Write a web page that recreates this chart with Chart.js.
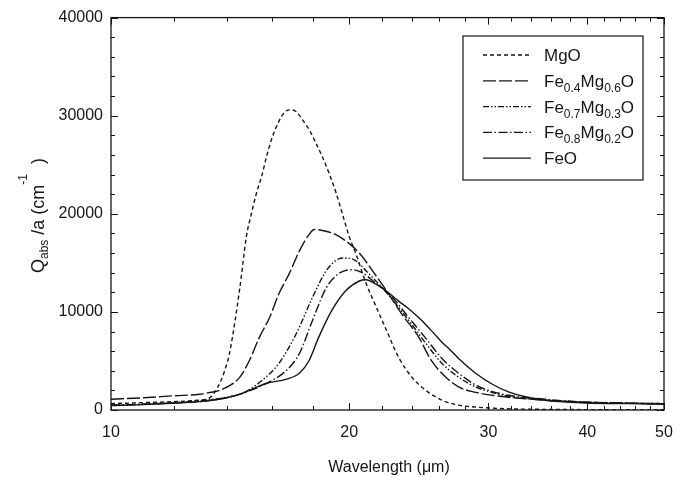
<!DOCTYPE html>
<html><head><meta charset="utf-8">
<script src="https://cdn.jsdelivr.net/npm/chart.js@4/dist/chart.umd.min.js"></script>
<style>html,body{margin:0;padding:0;background:#fff}canvas{display:block}</style>
</head><body>
<canvas id="c" width="696" height="488"></canvas>
<script>
// ---- data (wavelength in µm, Qabs/a in cm^-1) ----
const mgoWl  = [10, 11, 12, 12.9, 13.3, 13.64, 13.92, 14.12, 14.55, 14.83, 15.05, 15.27, 15.5, 15.72, 15.95, 16.19, 16.42, 16.66, 16.9, 17.15, 17.45, 17.81, 18.17, 18.49, 18.87, 19.26, 19.6, 20.0, 20.4, 21.0, 21.6, 22.3, 23.1, 24.0, 25.0, 26.2, 27.5, 28.9, 30.5, 32.7, 36, 40, 45, 50];
const mgoVal = [650, 750, 850, 1000, 1200, 2300, 4000, 5800, 12450, 17700, 20050, 22100, 23800, 25800, 27550, 28900, 29900, 30500, 30600, 30400, 29600, 28550, 27150, 25850, 24100, 22100, 20050, 17700, 15900, 12950, 10650, 8100, 5350, 3350, 2000, 1000, 500, 300, 180, 100, 60, 40, 30, 20];

const fe04Wl  = [10, 11, 12, 12.94, 13.25, 13.72, 14.55, 14.96, 15.4, 15.86, 16.3, 16.8, 17.3, 17.8, 18.07, 18.5, 19.03, 19.83, 20.6, 21.4, 22.3, 23.3, 24.5, 25.4, 26.5, 27.5, 28.9, 30.3, 31.8, 35.4, 39.8, 45, 50];
const fe04Val = [1100, 1250, 1450, 1600, 1750, 2000, 3350, 5050, 7400, 9400, 11850, 13900, 16200, 17900, 18400, 18300, 18050, 17200, 16000, 14200, 12150, 9800, 7400, 5050, 3350, 2350, 1800, 1500, 1300, 1000, 800, 700, 600];

const fe07Wl  = [10, 11, 12, 12.94, 14.0, 14.66, 15.54, 16.3, 17.15, 17.97, 18.71, 19.4, 19.83, 20.4, 21.0, 22.3, 23.8, 25.0, 26.2, 27.5, 28.9, 30.3, 31.8, 35.4, 39.8, 45, 50];
const fe07Val = [500, 600, 750, 950, 1300, 1700, 3050, 4750, 7800, 11450, 14200, 15400, 15500, 15200, 14200, 11950, 9100, 6800, 4750, 3350, 2350, 1800, 1400, 1000, 800, 700, 650];

const fe08Wl  = [10, 11, 12, 12.94, 14.0, 14.66, 15.7, 16.67, 17.3, 17.97, 18.71, 19.4, 20.18, 20.77, 21.6, 22.47, 23.8, 25.0, 26.2, 27.5, 28.9, 30.3, 31.8, 35.4, 39.8, 45, 50];
const fe08Val = [480, 580, 720, 850, 1250, 1700, 2700, 4050, 5750, 9100, 12450, 13900, 14300, 14000, 12950, 11850, 9400, 7300, 5250, 3750, 2550, 1900, 1500, 1100, 800, 700, 650];

const feoWl  = [10, 11, 12, 12.94, 14.0, 14.66, 15.7, 16.67, 17.3, 17.8, 18.3, 19.0, 19.8, 20.6, 21.0, 21.6, 22.3, 23.1, 23.8, 24.5, 25.0, 25.6, 26.2, 26.9, 27.5, 28.9, 30.3, 31.8, 33.4, 35.4, 36.8, 39.8, 45, 50];
const feoVal = [450, 550, 700, 850, 1250, 1700, 2700, 3150, 3750, 5050, 7400, 10100, 12150, 13150, 13270, 12850, 12100, 11100, 10300, 9400, 8700, 7800, 6900, 6050, 5250, 3750, 2650, 1850, 1350, 1000, 850, 720, 650, 600];

const xTickLabels = [10, 20, 30, 40, 50];
const xMinorTicks = [12, 14, 16, 18, 22, 24, 26, 28, 32, 34, 36, 38, 42, 44, 46, 48];
const yTickLabels = [0, 10000, 20000, 30000, 40000];
const yMinorStep = 2000;

// legend entries: main text parts with subscripts
const legendLabels = [
  [['MgO', 0]],
  [['Fe', 0], ['0.4', 1], ['Mg', 0], ['0.6', 1], ['O', 0]],
  [['Fe', 0], ['0.7', 1], ['Mg', 0], ['0.3', 1], ['O', 0]],
  [['Fe', 0], ['0.8', 1], ['Mg', 0], ['0.2', 1], ['O', 0]],
  [['FeO', 0]]
];
const xTitle = 'Wavelength (\u03BCm)';
const yTitleParts = [['Q', 0], ['abs', 1], [' /a (cm', 0], ['-1', 2], ['  )', 0]];

const FONT = '"Liberation Sans", Arial, Helvetica, sans-serif';
const INK = '#151515';

function pts(wl, v) { return wl.map((x, i) => ({ x: x, y: v[i] })); }

const dashes = [[4, 3], [13, 3], [6, 2, 1.5, 2, 1.5, 2], [9, 2.5, 1.5, 2.5], []];
const seriesData = [pts(mgoWl, mgoVal), pts(fe04Wl, fe04Val), pts(fe07Wl, fe07Val), pts(fe08Wl, fe08Val), pts(feoWl, feoVal)];

function paintRich(ctx, parts, x, yBase, sizes, offs) {
  let cx = x;
  parts.forEach(([t, mode]) => {
    ctx.font = (mode === 0 ? sizes[0] : sizes[1]) + 'px ' + FONT;
    const dy = mode === 1 ? offs[0] : (mode === 2 ? offs[1] : 0);
    ctx.fillText(t, cx, yBase + dy);
    cx += ctx.measureText(t).width;
  });
  return cx - x;
}

const framePlugin = {
  id: 'frame',
  afterDraw(chart) {
    const ctx = chart.ctx;
    const { left, right, top, bottom } = chart.chartArea;
    const xs = chart.scales.x, ys = chart.scales.y;
    ctx.save();
    ctx.strokeStyle = INK;
    ctx.lineWidth = 1.3;
    ctx.setLineDash([]);
    ctx.strokeRect(left, top, right - left, bottom - top);
    // ticks, inward on all four sides
    ctx.beginPath();
    const tickX = (v, len) => {
      const px = Math.round(xs.getPixelForValue(v)) + 0.5;
      ctx.moveTo(px, bottom); ctx.lineTo(px, bottom - len);
      ctx.moveTo(px, top); ctx.lineTo(px, top + len);
    };
    xTickLabels.forEach(v => tickX(v, 7));
    xMinorTicks.forEach(v => tickX(v, 4));
    for (let v = 0; v <= 40000; v += yMinorStep) {
      const len = (v % 10000 === 0) ? 7 : 4;
      const py = Math.round(ys.getPixelForValue(v)) + 0.5;
      ctx.moveTo(left, py); ctx.lineTo(left + len, py);
      ctx.moveTo(right, py); ctx.lineTo(right - len, py);
    }
    ctx.lineWidth = 1;
    ctx.stroke();

    // legend
    const bx = 463, by = 36, bw = 180, bh = 144;
    ctx.fillStyle = '#fff';
    ctx.fillRect(bx, by, bw, bh);
    ctx.lineWidth = 1.2;
    ctx.strokeRect(bx, by, bw, bh);
    ctx.fillStyle = INK;
    ctx.textBaseline = 'alphabetic';
    ctx.textAlign = 'left';
    legendLabels.forEach((parts, i) => {
      const cy = 55 + i * 25.8;
      ctx.beginPath();
      ctx.setLineDash(dashes[i]);
      ctx.lineWidth = 1.3;
      ctx.moveTo(483, cy); ctx.lineTo(531, cy);
      ctx.stroke();
      ctx.setLineDash([]);
      paintRich(ctx, parts, 544, cy + 6, [17, 12], [5, -7]);
    });

    // x title
    ctx.font = '16px ' + FONT;
    ctx.textAlign = 'center';
    ctx.textBaseline = 'middle';
    ctx.fillText(xTitle, 389, 468);

    // y title (rotated)
    ctx.translate(44, 273);
    ctx.rotate(-Math.PI / 2);
    ctx.textAlign = 'left';
    ctx.textBaseline = 'alphabetic';
    paintRich(ctx, yTitleParts, 0, 0, [18, 12], [4, -17]);
    ctx.restore();
  }
};

new Chart(document.getElementById('c'), {
  type: 'line',
  data: {
    datasets: seriesData.map((d, i) => ({
      data: d,
      borderColor: INK,
      borderWidth: 1.4,
      borderDash: dashes[i],
      pointRadius: 0,
      fill: false,
      cubicInterpolationMode: 'monotone'
    }))
  },
  options: {
    responsive: false,
    animation: false,
    devicePixelRatio: 1,
    layout: { padding: { left: 0, right: 32, top: 13, bottom: 0 } },
    plugins: { legend: { display: false }, tooltip: { enabled: false } },
    scales: {
      x: {
        type: 'logarithmic', min: 10, max: 50,
        afterBuildTicks: s => { s.ticks = xTickLabels.map(v => ({ value: v })); },
        afterFit: s => { s.height = 78; },
        grid: { display: false, drawTicks: false },
        border: { display: false },
        ticks: { callback: v => String(v), autoSkip: false, maxRotation: 0, padding: 13, color: INK, font: { family: FONT, size: 16 } }
      },
      y: {
        type: 'linear', min: 0, max: 40000,
        afterBuildTicks: s => { s.ticks = yTickLabels.map(v => ({ value: v })); },
        afterFit: s => { s.width = 111; },
        grid: { display: false, drawTicks: false },
        border: { display: false },
        ticks: { callback: v => String(v), padding: 8, color: INK, font: { family: FONT, size: 16 } }
      }
    }
  },
  plugins: [framePlugin]
});
</script></body></html>
